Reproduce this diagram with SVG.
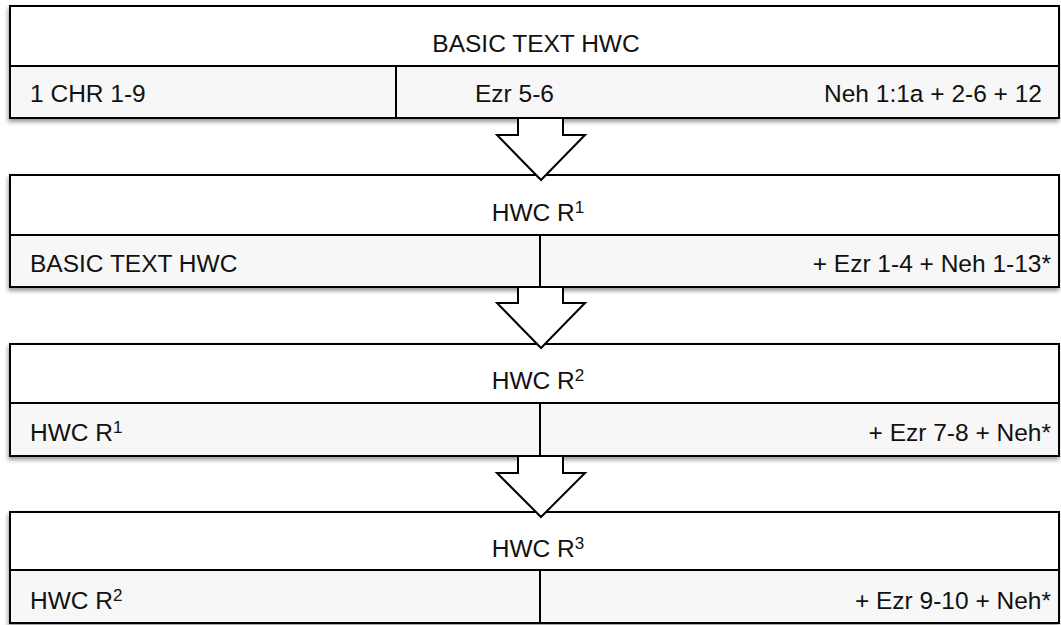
<svg xmlns="http://www.w3.org/2000/svg" width="1061" height="625" viewBox="0 0 1061 625">
  <defs>
    <filter id="shadow" x="-5%" y="-20%" width="110%" height="150%">
      <feGaussianBlur in="SourceAlpha" stdDeviation="2"/>
      <feOffset dx="-1" dy="3" result="blur"/>
      <feComponentTransfer><feFuncA type="linear" slope="0.4"/></feComponentTransfer>
      <feMerge><feMergeNode/><feMergeNode in="SourceGraphic"/></feMerge>
    </filter>
    <style>
      .frame { fill: #ffffff; stroke: #000; stroke-width: 2; }
      .lower { fill: #f7f7f7; stroke: #000; stroke-width: 2; }
      .rule { stroke: #000; stroke-width: 2; fill: none; }
      .arrow { fill: #ffffff; stroke: #000; stroke-width: 2; stroke-linejoin: miter; }
      text { font-family: "Liberation Sans", Arial, sans-serif; font-size: 24.5px; fill: #111; }
      .mid { text-anchor: middle; }
      .end { text-anchor: end; }
      .sup { font-size: 17px; }
    </style>
  </defs>

  <!-- Stage 0: basic text -->
  <g id="basic-text">
    <g filter="url(#shadow)">
      <rect class="frame" x="10" y="6" width="1049" height="112"/>
    </g>
    <rect class="lower" x="10" y="66" width="1049" height="52"/>
    <line class="rule" x1="396" y1="66" x2="396" y2="118"/>
    <text class="mid" x="536" y="52">BASIC TEXT HWC</text>
    <text x="30" y="102">1 CHR 1-9</text>
    <text x="475" y="102">Ezr 5-6</text>
    <text class="end" x="1042" y="102">Neh 1:1a + 2-6 + 12</text>
  </g>

  <!-- Stage 1 -->
  <g id="hwc-r1">
    <g filter="url(#shadow)">
      <rect class="frame" x="10" y="175" width="1049" height="112"/>
    </g>
    <rect class="lower" x="10" y="235" width="1049" height="52"/>
    <line class="rule" x1="540" y1="235" x2="540" y2="287"/>
    <text class="mid" x="538" y="221">HWC R<tspan class="sup" dy="-8">1</tspan></text>
    <text x="30" y="272">BASIC TEXT HWC</text>
    <text class="end" x="1051" y="272">+ Ezr 1-4 + Neh 1-13*</text>
  </g>

  <!-- Stage 2 -->
  <g id="hwc-r2">
    <g filter="url(#shadow)">
      <rect class="frame" x="10" y="344" width="1049" height="112"/>
    </g>
    <rect class="lower" x="10" y="403" width="1049" height="53"/>
    <line class="rule" x1="540" y1="403" x2="540" y2="456"/>
    <text class="mid" x="538" y="389">HWC R<tspan class="sup" dy="-8">2</tspan></text>
    <text x="30" y="441">HWC R<tspan class="sup" dy="-8">1</tspan></text>
    <text class="end" x="1051" y="441">+ Ezr 7-8 + Neh*</text>
  </g>

  <!-- Stage 3 -->
  <g id="hwc-r3">
    <g filter="url(#shadow)">
      <rect class="frame" x="10" y="512" width="1049" height="111"/>
    </g>
    <rect class="lower" x="10" y="570" width="1049" height="53"/>
    <line class="rule" x1="540" y1="570" x2="540" y2="623"/>
    <text class="mid" x="538" y="557">HWC R<tspan class="sup" dy="-8">3</tspan></text>
    <text x="30" y="609">HWC R<tspan class="sup" dy="-8">2</tspan></text>
    <text class="end" x="1051" y="609">+ Ezr 9-10 + Neh*</text>
  </g>

  <!-- Block arrows between stages -->
  <g id="connectors">
    <polygon class="arrow" points="518,118 563,118 563,135 585,135 541,180 497,135 518,135"/>
    <polygon class="arrow" points="518,287 563,287 563,303 585,303 541,348 497,303 518,303"/>
    <polygon class="arrow" points="518,456 563,456 563,473 585,473 541,517 497,473 518,473"/>
  </g>
</svg>
